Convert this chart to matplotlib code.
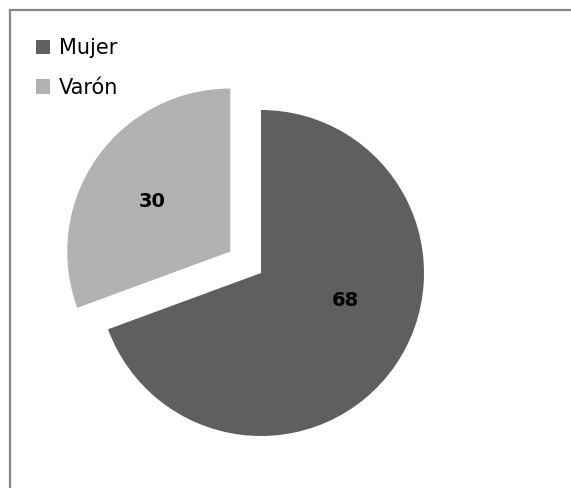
import matplotlib
matplotlib.use("Agg")
import matplotlib.pyplot as plt
from matplotlib.lines import Line2D
from matplotlib.patches import Patch

# data
categories = ["Mujer", "Varón"]
values = [68, 30]
colors = ["#5f5f5f", "#b2b2b2"]

W, H = 571, 488
fig = plt.figure(figsize=(W / 100, H / 100), dpi=100)
ax = fig.add_axes([0, 0, 1, 1])

# pie centre and radius in pixels
cx, cy, r = 261, 273, 163

wedges, _ = ax.pie(values, colors=colors, explode=[0, 0.23], startangle=90,
                   counterclock=False, radius=1, wedgeprops=dict(linewidth=0))

# value labels (positions in radius units, relative to the pie centre)
label_pos = [(0.515, -0.166), (-0.669, 0.436)]
for (lx, ly), v in zip(label_pos, values):
    ax.text(lx, ly, str(v), ha="center", va="center", fontsize=14,
            fontweight="bold", color="black")

ax.set_aspect("auto")
ax.set_xlim(-cx / r, (W - cx) / r)
ax.set_ylim(-(H - cy) / r, cy / r)
ax.axis("off")

# chart area border (left and top only visible)
bc = "#888888"
fig.add_artist(Line2D([9.5 / W, 9.5 / W], [0, 1 - 9.5 / H], color=bc, lw=1.6,
                      transform=fig.transFigure))
fig.add_artist(Line2D([9.5 / W, 1], [1 - 9.5 / H, 1 - 9.5 / H], color=bc, lw=1.6,
                      transform=fig.transFigure))

# legend
handles = [Patch(facecolor=c, edgecolor="none") for c in colors]
fig.legend(handles, categories, loc="upper left",
           bbox_to_anchor=(36 / W, 1 - 38 / H), frameon=False, fontsize=15,
           borderpad=0, borderaxespad=0, handlelength=0.66, handleheight=0.66,
           handletextpad=0.45, labelspacing=0.95)

fig.savefig("out.png", dpi=100)
